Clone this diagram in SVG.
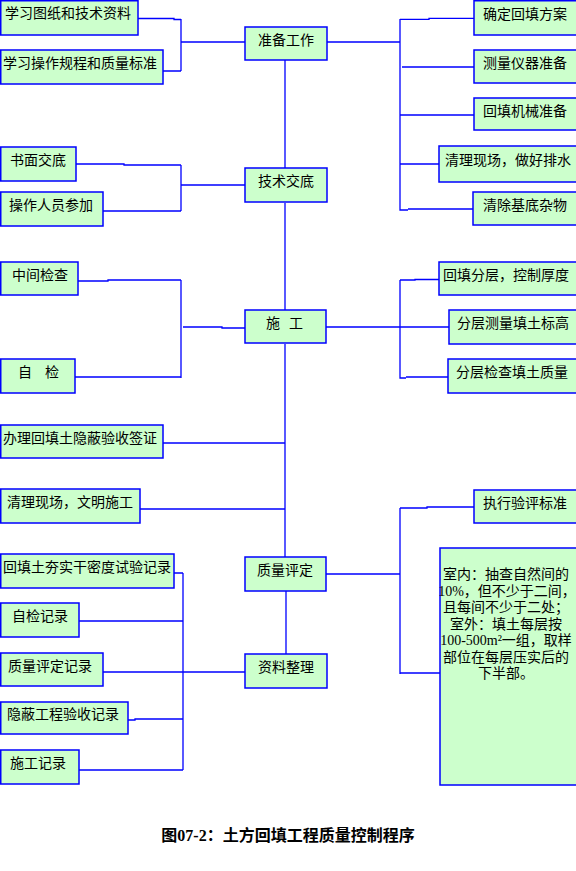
<svg xmlns="http://www.w3.org/2000/svg" width="576" height="871" viewBox="0 0 576 871">
<style>
.b{fill:#CCFFCC;stroke:#0000FF;stroke-width:1.5}
.t{font-family:"Noto Sans CJK SC","Liberation Sans",sans-serif;font-size:14px;fill:#000}
.m{font-family:"Liberation Serif","Noto Sans CJK SC",serif;font-size:14px;fill:#000;text-anchor:middle}
.c{fill:none;stroke:#0000FF;stroke-width:1.3}
.ti{font-family:"Liberation Serif","Noto Sans CJK SC",serif;font-size:16px;font-weight:bold;fill:#000;text-anchor:middle}
</style>
<rect width="576" height="871" fill="#FFFFFF"/>
<g id="connectors" class="c">
<path d="M285 60V168M285 203V310M285 344V557M286 591V654"/>
<path d="M138 18.5H174V19.5H181M181 19V71M163 71H181M181 42H245"/>
<path d="M327 42H400M400 19V210H408M400 19.3H429V18.3H474M402 67H474M400 115H474M400 164H439M408 209H473"/>
<path d="M76 164H124V165H181M181 165V211M103 211H181M181 185H245"/>
<path d="M78 281H108V280H181M181 280V378M75 377H181M183 327H222V328H245"/>
<path d="M326 327H400M400 280V378H406M400 280H415V279.5H439M400 327H449M406 377H448"/>
<path d="M163 443H285M140 509H285"/>
<path d="M326 574H400M400 508V674M400 508H427V507H474M400 673H440"/>
<path d="M174 573H183M183 573V770M79 621H183M103 672H245M128 720H135V719H183M79 770H183"/>
</g>
<g id="n-zhunbei"><rect class="b" x="245" y="27" width="82" height="33"/><text class="t" x="286" y="45" text-anchor="middle">准备工作</text></g>
<g id="n-jishujiaodi"><rect class="b" x="245" y="168" width="82" height="34"/><text class="t" x="286" y="186" text-anchor="middle">技术交底</text></g>
<g id="n-shigong"><rect class="b" x="245" y="310" width="81" height="33"/><text class="t" y="328"><tspan x="266">施</tspan><tspan x="289">工</tspan></text></g>
<g id="n-zhiliangpingding"><rect class="b" x="245" y="557" width="81" height="34"/><text class="t" x="285" y="575" text-anchor="middle">质量评定</text></g>
<g id="n-ziliaozhengli"><rect class="b" x="245" y="654" width="82" height="34"/><text class="t" x="286" y="672" text-anchor="middle">资料整理</text></g>

<g id="n-l1"><rect class="b" x="0.75" y="0.75" width="137.25" height="34.25"/><text class="t" x="5" y="18">学习图纸和技术资料</text></g>
<g id="n-l2"><rect class="b" x="0.75" y="50" width="162.25" height="34"/><text class="t" x="3" y="68">学习操作规程和质量标准</text></g>
<g id="n-l3"><rect class="b" x="0.75" y="147" width="75.25" height="34"/><text class="t" x="10" y="165">书面交底</text></g>
<g id="n-l4"><rect class="b" x="0.75" y="192" width="102.25" height="34"/><text class="t" x="9" y="210">操作人员参加</text></g>
<g id="n-l5"><rect class="b" x="0.75" y="262" width="77.25" height="33"/><text class="t" x="12" y="280">中间检查</text></g>
<g id="n-l6"><rect class="b" x="0.75" y="359" width="74.25" height="34"/><text class="t" y="377"><tspan x="18">自</tspan><tspan x="45">检</tspan></text></g>
<g id="n-l7"><rect class="b" x="0.75" y="425" width="162.25" height="33"/><text class="t" x="3" y="443">办理回填土隐蔽验收签证</text></g>
<g id="n-l8"><rect class="b" x="0.75" y="489" width="139.25" height="34"/><text class="t" x="7" y="507">清理现场，文明施工</text></g>
<g id="n-l9"><rect class="b" x="0.75" y="554" width="173.25" height="34"/><text class="t" x="3" y="572">回填土夯实干密度试验记录</text></g>
<g id="n-l10"><rect class="b" x="0.75" y="603" width="78.25" height="34"/><text class="t" x="12" y="621">自检记录</text></g>
<g id="n-l11"><rect class="b" x="0.75" y="653" width="102.25" height="33"/><text class="t" x="8" y="671">质量评定记录</text></g>
<g id="n-l12"><rect class="b" x="0.75" y="702" width="127.25" height="32"/><text class="t" x="7" y="719">隐蔽工程验收记录</text></g>
<g id="n-l13"><rect class="b" x="0.75" y="750" width="78.25" height="34"/><text class="t" x="10" y="768">施工记录</text></g>

<g id="n-r1"><rect class="b" x="474" y="0.75" width="110" height="34.25"/><text class="t" x="483" y="19">确定回填方案</text></g>
<g id="n-r2"><rect class="b" x="474" y="50" width="110" height="33"/><text class="t" x="483" y="68">测量仪器准备</text></g>
<g id="n-r3"><rect class="b" x="474" y="98" width="110" height="32"/><text class="t" x="483" y="116">回填机械准备</text></g>
<g id="n-r4"><rect class="b" x="439" y="146" width="145" height="36"/><text class="t" x="445" y="165">清理现场，做好排水</text></g>
<g id="n-r5"><rect class="b" x="473" y="192" width="111" height="33"/><text class="t" x="483" y="210">清除基底杂物</text></g>
<g id="n-r6"><rect class="b" x="439" y="262" width="145" height="33"/><text class="t" x="443" y="280">回填分层，控制厚度</text></g>
<g id="n-r7"><rect class="b" x="449" y="310" width="135" height="34"/><text class="t" x="457" y="328">分层测量填土标高</text></g>
<g id="n-r8"><rect class="b" x="448" y="359" width="136" height="34"/><text class="t" x="456" y="377">分层检查填土质量</text></g>
<g id="n-r9"><rect class="b" x="474" y="490" width="110" height="33"/><text class="t" x="483" y="508">执行验评标准</text></g>
<g id="n-r10"><rect class="b" x="440" y="548" width="144" height="237"/>
<text class="m" x="506" y="579">室内：抽查自然间的</text>
<text class="m" x="507" y="595.5">10%，但不少于二间，</text>
<text class="m" x="506" y="612">且每间不少于二处；</text>
<text class="m" x="506" y="628.5">室外：填土每层按</text>
<text class="m" x="506" y="645">100-500m²一组，取样</text>
<text class="m" x="506" y="661.5">部位在每层压实后的</text>
<text class="m" x="506" y="678">下半部。</text>
</g>
<text class="ti" x="288" y="841">图07-2：土方回填工程质量控制程序</text>
</svg>
